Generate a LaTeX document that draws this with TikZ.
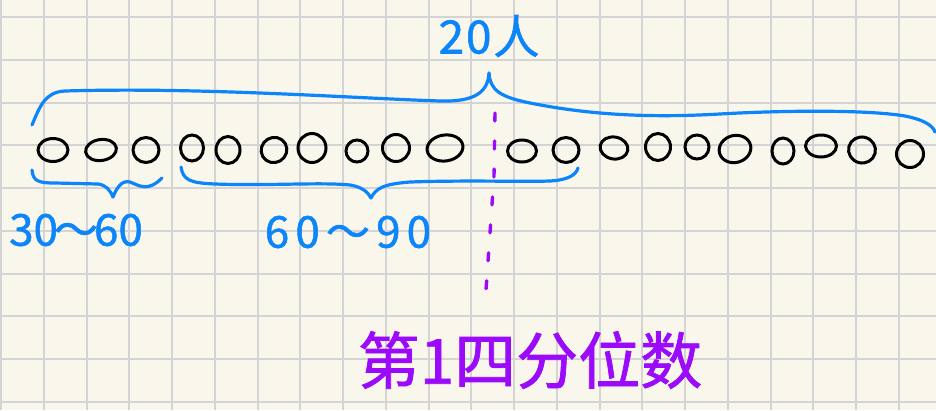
\documentclass[tikz,border=0pt]{standalone}
\usepackage{fontspec}
\setmainfont{Noto Sans CJK SC}
\newfontfamily\penfont[FakeBold=1.2]{Noto Sans CJK SC}
\usetikzlibrary{shapes.geometric}
\definecolor{paper}{RGB}{249,247,236}
\definecolor{gridc}{RGB}{212,212,212}
\definecolor{penblue}{RGB}{12,132,250}
\definecolor{penpurple}{RGB}{155,10,250}
\tikzset{
  dot/.style={draw=black, line width=3pt, ellipse, inner sep=0pt},
  bluepen/.style={draw=penblue, line width=3.2pt, line cap=round, line join=round},
  purplepen/.style={draw=penpurple, line width=3.4pt, line cap=round, dash pattern=on 8pt off 20pt},
  bluelabel/.style={text=penblue, inner sep=0pt},
}
\begin{document}
\begin{tikzpicture}[x=1pt,y=-1pt]
\useasboundingbox (0,0) rectangle (936,410);
\fill[paper] (0,0) rectangle (936,410);
% grid
\foreach \k in {0,...,21} {\draw[gridc, line width=2pt] ({1+42.75*\k},0) -- ({1+42.75*\k},410);}
\foreach \k in {0,...,9} {\draw[gridc, line width=2pt] (0,{17+42.75*\k}) -- (936,{17+42.75*\k});}
% dots
\node[dot, minimum width=30pt, minimum height=23pt] (c1) at (53,150) {};
\node[dot, minimum width=31pt, minimum height=21pt, rotate=8] (c2) at (101,150) {};
\node[dot, minimum width=26pt, minimum height=25pt] (c3) at (146,150) {};
\node[dot, minimum width=23pt, minimum height=26pt] (c4) at (192,148) {};
\node[dot, minimum width=24pt, minimum height=27pt] (c5) at (228,150) {};
\node[dot, minimum width=26pt, minimum height=25pt, rotate=30] (c6) at (274,150) {};
\node[dot, minimum width=28pt, minimum height=29pt] (c7) at (312,148) {};
\node[dot, minimum width=22pt, minimum height=22pt] (c8) at (357,151) {};
\node[dot, minimum width=27pt, minimum height=27pt] (c9) at (396,148) {};
\node[dot, minimum width=36pt, minimum height=26pt, rotate=8] (c10) at (445,148) {};
\node[dot, minimum width=29pt, minimum height=22pt] (c11) at (522,151) {};
\node[dot, minimum width=26pt, minimum height=25pt] (c12) at (566,150) {};
\node[dot, minimum width=28pt, minimum height=22pt, rotate=-10] (c13) at (614,148) {};
\node[dot, minimum width=25pt, minimum height=27pt] (c14) at (658,147) {};
\node[dot, minimum width=24pt, minimum height=24pt] (c15) at (697,147) {};
\node[dot, minimum width=32pt, minimum height=27pt, rotate=15] (c16) at (735,149) {};
\node[dot, minimum width=22pt, minimum height=26pt] (c17) at (783,151) {};
\node[dot, minimum width=31pt, minimum height=22pt] (c18) at (821,146) {};
\node[dot, minimum width=27pt, minimum height=26pt, rotate=-15] (c19) at (862,150) {};
\node[dot, minimum width=27pt, minimum height=27pt] (c20) at (910,154) {};
% top brace
\coordinate (tl) at (32,125);
\coordinate (tip) at (489,73);
\coordinate (tr) at (935,132);
\draw[bluepen] (tl) .. controls (40,106) and (45,92) .. (65,91)
  .. controls (200,87) and (350,98) .. (440,101)
  .. controls (475,102) and (488,92) .. (tip);
\draw[bluepen] (tip) .. controls (490,90) and (500,97) .. (530,103)
  .. controls (590,115) and (650,118) .. (720,114)
  .. controls (790,110) and (870,110) .. (905,116)
  .. controls (925,120) and (933,126) .. (tr);
% bottom brace 1
\coordinate (b1l) at (32,170);
\coordinate (b1t) at (113,197);
\coordinate (b1r) at (162,178);
\draw[bluepen] (b1l) .. controls (33,181) and (38,183) .. (55,183)
  -- (98,184) .. controls (106,185) and (110,190) .. (b1t)
  .. controls (117,187) and (122,180) .. (130,182)
  .. controls (140,186) and (148,192) .. (b1r);
% bottom brace 2
\coordinate (b2l) at (181,167);
\coordinate (b2t) at (371,198);
\coordinate (b2r) at (578,168);
\draw[bluepen] (b2l) .. controls (183,180) and (190,183) .. (215,184)
  .. controls (270,186) and (320,182) .. (350,185)
  .. controls (362,187) and (368,192) .. (b2t)
  .. controls (376,188) and (384,184) .. (410,182)
  .. controls (470,180) and (520,182) .. (550,181)
  .. controls (568,180) and (576,175) .. (b2r);
% labels
\node[bluelabel, font={\penfont\fontsize{46}{46}\selectfont\addfontfeature{LetterSpace=4}}] (n20) at (489,36) {20人};
\node[bluelabel, font={\penfont\fontsize{44}{44}\selectfont}] (l1) at (76,230) {30\kern-4pt ～\kern-4pt 60};
\node[bluelabel, font={\penfont\fontsize{44}{44}\selectfont\addfontfeature{LetterSpace=14}}] (l2) at (348,232) {60～90};
\node[text=penpurple, inner sep=0pt, font={\penfont\fontsize{62}{62}\selectfont}] (q1) at (530,360) {第1四分位数};
% quartile marker
\coordinate (qa) at (495,113);
\coordinate (qb) at (494,176);
\coordinate (qc) at (486,290);
\draw[purplepen] (qa) -- (qb) -- (qc);
\end{tikzpicture}
\end{document}
